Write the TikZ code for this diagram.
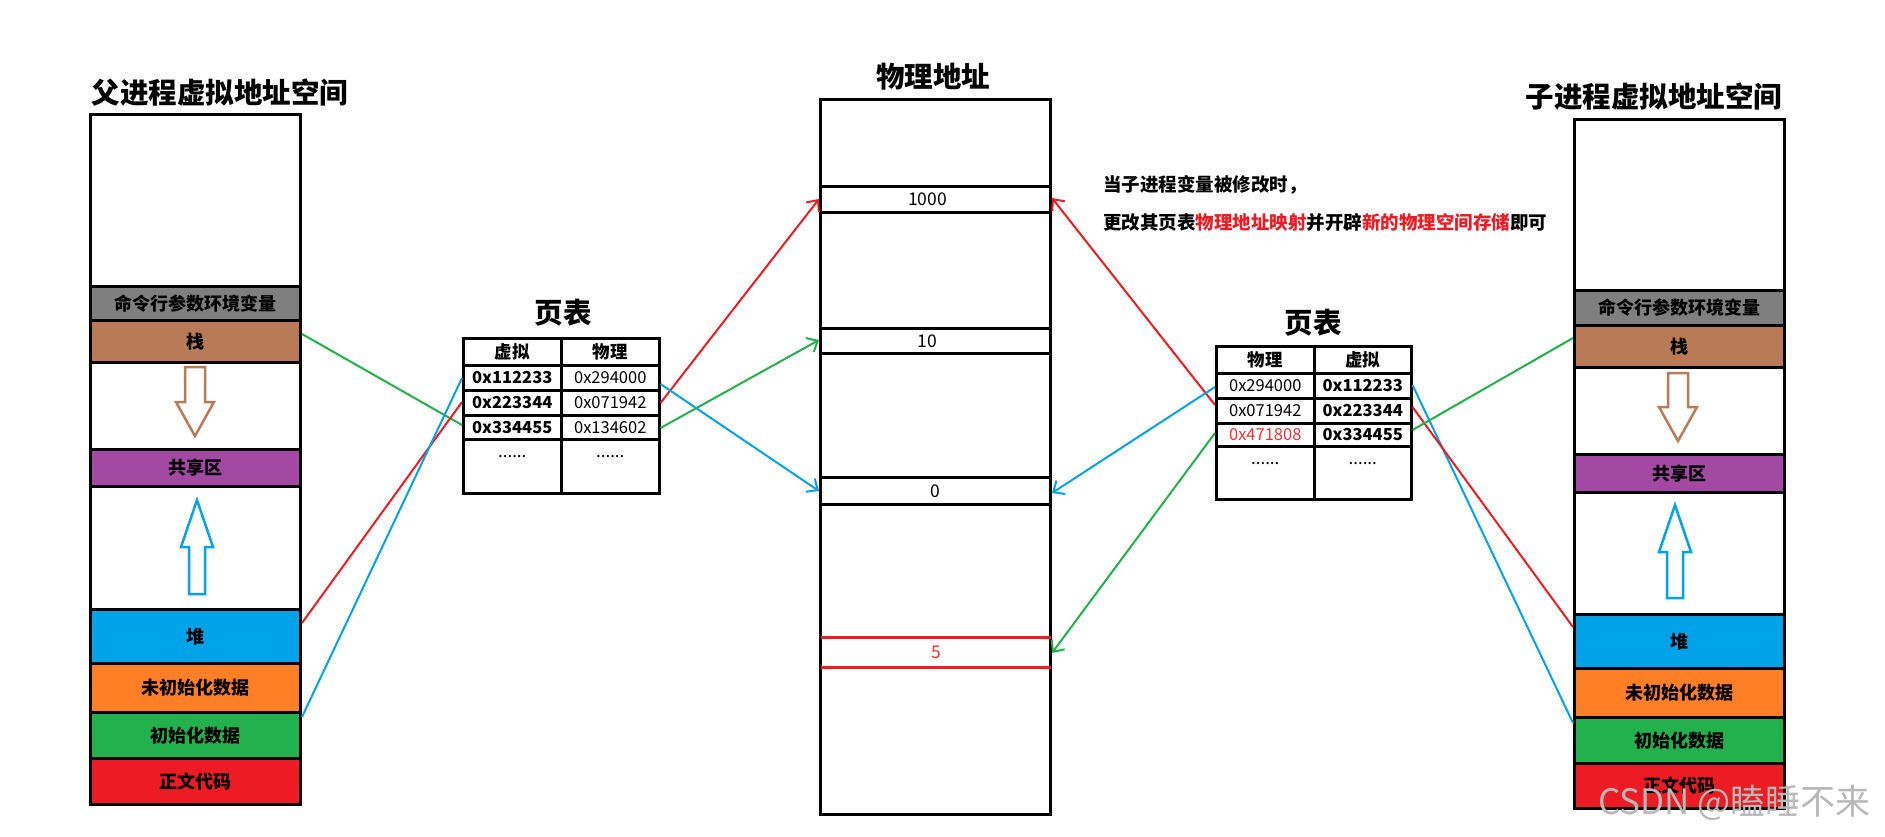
\documentclass[tikz,border=0pt]{standalone}
\usepackage{fontspec}
\setmainfont{Noto Sans CJK SC}
\usetikzlibrary{arrows.meta,calc}
\definecolor{cgray}{HTML}{7F7F7F}
\definecolor{cbrown}{HTML}{B97A57}
\definecolor{cpurple}{HTML}{A349A4}
\definecolor{cblue}{HTML}{00A2E8}
\definecolor{corange}{HTML}{FF7F27}
\definecolor{cgreen}{HTML}{22B14C}
\definecolor{cred}{HTML}{ED1C24}
\definecolor{ctred}{HTML}{F03038}
\begin{document}
\begin{tikzpicture}[x=1pt,y=-1pt,
  band/.style={draw=black, line width=3pt, minimum width=210pt, anchor=north west, inner sep=0pt, font=\bfseries\fontsize{18}{21}\selectfont},
  pband/.style={draw=black, line width=3pt, minimum width=230pt, anchor=north west, inner sep=0pt, font=\fontsize{17.5}{20}\selectfont},
  cell/.style={draw=black, line width=2.5pt, anchor=north west, inner sep=0pt, minimum width=98pt},
  hdr/.style={font=\bfseries\fontsize{17.5}{20}\selectfont},
  valb/.style={font=\bfseries\fontsize{16.5}{20}\selectfont},
  valr/.style={font=\fontsize{16.5}{20}\selectfont},
  dots/.style={font=\fontsize{17}{18}\selectfont, anchor=base, inner sep=0pt},
  title/.style={font=\bfseries\fontsize{28.5}{31}\selectfont, anchor=center},
  conn/.style={line width=2pt},
  arr/.style={line width=2pt, -{Straight Barb[length=9pt,width=16pt,line width=2pt]}},
  hollow/.style={line width=2.5pt, fill=white, line join=miter}
]
\useasboundingbox (0,0) rectangle (1885,836);
\fill[white] (0,0) rectangle (1885,836);

% ---------- titles ----------
\node[title] (tL) at (220,93) {父进程虚拟地址空间};
\node[title] (tP) at (933,77) {物理地址};
\node[title] (tLT) at (563,313) {页表};
\node[title] (tRT) at (1313,323) {页表};
\node[title] (tR) at (1654,97) {子进程虚拟地址空间};

% ---------- left stack ----------
\node[band, fill=white, minimum height=172pt] (Ltop) at (89,113) {};
\node[band, fill=cgray, minimum height=34pt] (Lenv) at (89,285) {命令行参数环境变量};
\node[band, fill=cbrown, minimum height=42pt] (Lstack) at (89,319) {栈};
\node[band, fill=white, minimum height=87pt] (Lgap1) at (89,361) {};
\node[band, fill=cpurple, minimum height=37pt] (Lshare) at (89,448) {共享区};
\node[band, fill=white, minimum height=123pt] (Lgap2) at (89,485) {};
\node[band, fill=cblue, minimum height=54pt] (Lheap) at (89,608) {堆};
\node[band, fill=corange, minimum height=49pt] (Lbss) at (89,662) {未初始化数据};
\node[band, fill=cgreen, minimum height=46pt] (Ldata) at (89,711) {初始化数据};
\node[band, fill=cred, minimum height=46pt] (Ltext) at (89,757) {正文代码};
\draw[hollow, draw=cbrown] (185,367)--(205,367)--(205,402)--(214,402)--(195,436)--(176,402)--(185,402)--cycle;
\draw[hollow, draw=cblue] (197,500)--(213,547)--(205,547)--(205,594)--(189,594)--(189,547)--(181,547)--cycle;

% ---------- right stack ----------
\node[band, fill=white, minimum height=171pt] (Rtop) at (1573,118) {};
\node[band, fill=cgray, minimum height=35pt] (Renv) at (1573,289) {命令行参数环境变量};
\node[band, fill=cbrown, minimum height=42pt] (Rstack) at (1573,324) {栈};
\node[band, fill=white, minimum height=87pt] (Rgap1) at (1573,366) {};
\node[band, fill=cpurple, minimum height=38pt] (Rshare) at (1573,453) {共享区};
\node[band, fill=white, minimum height=122pt] (Rgap2) at (1573,491) {};
\node[band, fill=cblue, minimum height=54pt] (Rheap) at (1573,613) {堆};
\node[band, fill=corange, minimum height=49pt] (Rbss) at (1573,667) {未初始化数据};
\node[band, fill=cgreen, minimum height=46pt] (Rdata) at (1573,716) {初始化数据};
\node[band, fill=cred, minimum height=45pt] (Rtext) at (1573,762) {正文代码};
\draw[hollow, draw=cbrown] (1668,373)--(1688,373)--(1688,407)--(1697,407)--(1678,441)--(1659,407)--(1668,407)--cycle;
\draw[hollow, draw=cblue] (1675,505)--(1691,552)--(1683,552)--(1683,598)--(1667,598)--(1667,552)--(1659,552)--cycle;

% ---------- physical memory ----------
\node[pband, minimum width=230pt, minimum height=715pt] (phys) at (819,98) {};
\node[pband, minimum height=26pt, text depth=0pt] (p1000) at (819,185) {\hspace*{-16pt}1000};
\node[pband, minimum height=25pt] (p10) at (819,327) {\hspace*{-16pt}10};
\node[pband, minimum height=27pt] (p0) at (819,476) {0};
\node[pband, draw=none, minimum width=227pt, minimum height=27pt, text=ctred] (p5) at (821,637) {5};
\draw[cred, line width=3pt] (p5.north west) -- (p5.north east);
\draw[cred, line width=3pt] (p5.south west) -- (p5.south east);

% ---------- left page table ----------
\node[cell, hdr, minimum height=27pt] (LtH1) at (462,337) {虚拟};
\node[cell, hdr, minimum height=27pt] (LtH2) at (560,337) {物理};
\node[cell, valb, minimum height=25pt] (Lt1a) at (462,364) {0x112233};
\node[cell, valr, minimum height=25pt] (Lt1b) at (560,364) {0x294000};
\node[cell, valb, minimum height=25pt] (Lt2a) at (462,389) {0x223344};
\node[cell, valr, minimum height=25pt] (Lt2b) at (560,389) {0x071942};
\node[cell, valb, minimum height=24pt] (Lt3a) at (462,414) {0x334455};
\node[cell, valr, minimum height=24pt] (Lt3b) at (560,414) {0x134602};
\node[cell, minimum height=54pt] (Lt4a) at (462,438) {};
\node[cell, minimum height=54pt] (Lt4b) at (560,438) {};
\node[dots] (Ld1) at ($(Lt4a.north)+(0,19)$) {......};
\node[dots] (Ld2) at ($(Lt4b.north)+(0,19)$) {......};

% ---------- right page table ----------
\node[cell, hdr, minimum height=27pt] (RtH1) at (1215,345) {物理};
\node[cell, hdr, minimum height=27pt, minimum width=97pt] (RtH2) at (1313,345) {虚拟};
\node[cell, valr, minimum height=25pt] (Rt1a) at (1215,372) {0x294000};
\node[cell, valb, minimum height=25pt, minimum width=97pt] (Rt1b) at (1313,372) {0x112233};
\node[cell, valr, minimum height=25pt] (Rt2a) at (1215,397) {0x071942};
\node[cell, valb, minimum height=25pt, minimum width=97pt] (Rt2b) at (1313,397) {0x223344};
\node[cell, valr, minimum height=23pt, text=ctred] (Rt3a) at (1215,422) {0x471808};
\node[cell, valb, minimum height=23pt, minimum width=97pt] (Rt3b) at (1313,422) {0x334455};
\node[cell, minimum height=53pt] (Rt4a) at (1215,445) {};
\node[cell, minimum height=53pt, minimum width=97pt] (Rt4b) at (1313,445) {};
\node[dots] (Rd1) at ($(Rt4a.north)+(0,19)$) {......};
\node[dots] (Rd2) at ($(Rt4b.north)+(0,19)$) {......};

% ---------- note ----------
\node[anchor=west, font=\bfseries\fontsize{18.5}{21}\selectfont, inner sep=0pt] (note1) at (1103,185) {当子进程变量被修改时，};
\node[anchor=west, font=\bfseries\fontsize{18.5}{21}\selectfont, inner sep=0pt] (note2) at (1103,222) {更改其页表\textcolor{cred}{物理地址映射}并开辟\textcolor{cred}{新的物理空间存储}即可};

% ---------- connectors: left ----------
\draw[conn, cgreen] (Lstack.east |- 0,334) -- (Lt3a.west |- 0,425);
\draw[conn, cred] (Lheap.east |- 0,623) -- (Lt2a.west |- 0,402);
\draw[conn, cblue] (Ldata.east |- 0,717) -- (Lt1a.west |- 0,378);
\draw[arr, cred] (Lt2b.east |- 0,403) -- (p1000.west |- 0,199);
\draw[arr, cblue] (Lt1b.east |- 0,384) -- (p0.west |- 0,491);
\draw[arr, cgreen] (Lt3b.east |- 0,428) -- (p10.west |- 0,340);

% ---------- connectors: right ----------
\draw[arr, cred] (Rt2a.west |- 0,405) -- (p1000.east |- 0,198);
\draw[arr, cblue] (Rt1a.west |- 0,387) -- (p0.east |- 0,493);
\draw[arr, cgreen] (Rt3a.west |- 0,433) -- (phys.east |- 0,653);
\draw[conn, cblue] (Rt1b.east |- 0,385) -- (Rdata.west |- 0,723);
\draw[conn, cred] (Rt2b.east |- 0,407) -- (Rheap.west |- 0,627);
\draw[conn, cgreen] (Rt3b.east |- 0,430) -- (Rstack.west |- 0,338);

% ---------- watermark ----------
\node[anchor=west, text=black!28, font=\fontsize{35}{37}\selectfont, inner sep=0pt] (wm) at (1598,803) {CSDN @瞌睡不来};
\end{tikzpicture}
\end{document}
